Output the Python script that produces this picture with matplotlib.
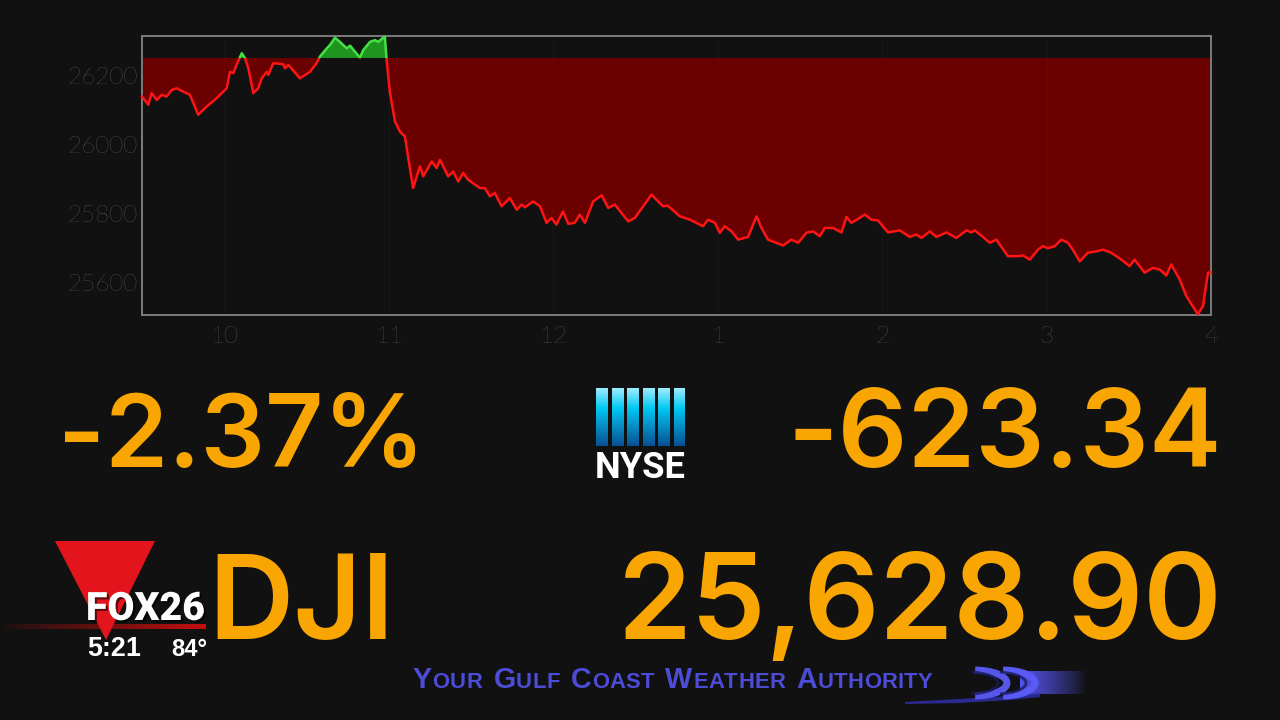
import matplotlib
matplotlib.use("Agg")
import matplotlib.pyplot as plt
import numpy as np
from matplotlib.patches import Rectangle, Polygon, Arc
import matplotlib.patheffects as pe

# ---------------- data ----------------
# minutes after 9:30 (market open)
minutes = [
    0, 2.3, 3.5, 5.4, 7.2, 9.0, 10.8, 12.7, 15.1, 17.5,
    20.5, 23.6, 27.2, 30.9, 32.1, 33.3, 34.5, 36.4, 37.6, 38.8,
    40.6, 42.4, 43.7, 45.5, 46.1, 47.9, 51.5, 52.2, 53.4, 57.6,
    61.3, 63.7, 64.9, 67.4, 68.6, 70.4, 72.2, 73.4, 74.7, 75.9,
    79.5, 80.7, 83.2, 85.0, 86.2, 88.0, 88.6, 89.2, 90.4, 92.3,
    94.1, 95.9, 98.9, 101.4, 102.6, 105.7, 107.5, 108.7, 111.7, 113.5,
    115.4, 117.2, 119.0, 123.3, 125.1, 126.9, 128.7, 131.2, 134.2, 136.7,
    138.5, 139.7, 142.7, 145.2, 147.6, 149.4, 151.2, 153.6, 155.5, 157.9,
    159.7, 161.6, 164.6, 167.7, 170.1, 172.5, 177.4, 179.8, 185.9, 188.3,
    190.1, 191.8, 196.2, 199.9, 204.7, 206.5, 209.0, 210.8, 212.6, 215.1,
    217.5, 221.1, 224.2, 226.0, 228.4, 233.9, 236.9, 239.4, 242.4, 244.8,
    247.3, 249.1, 252.1, 255.2, 257.0, 258.8, 261.2, 263.7, 266.1, 268.5,
    272.2, 276.4, 280.1, 282.5, 284.4, 287.4, 289.8, 293.5, 297.1, 300.8,
    302.6, 303.8, 306.2, 309.3, 311.7, 315.9, 319.6, 321.4, 323.9, 326.9,
    328.7, 330.5, 333.0, 335.4, 337.8, 339.6, 342.1, 345.1, 348.2, 350.6,
    353.6, 357.3, 360.3, 362.1, 365.8, 368.8, 371.3, 373.7, 375.5, 378.6,
    381.0, 385.2, 387.1, 388.9, 390.0,
]
values = [
    26140, 26116, 26150, 26130, 26145, 26140, 26159, 26164, 26154, 26145,
    26087, 26111, 26135, 26164, 26212, 26208, 26232, 26266, 26251, 26222,
    26150, 26164, 26193, 26212, 26203, 26237, 26234, 26222, 26232, 26193,
    26212, 26237, 26256, 26280, 26290, 26311, 26299, 26290, 26280, 26288,
    26253, 26275, 26299, 26304, 26299, 26311, 26314, 26251, 26154, 26067,
    26038, 26024, 25874, 25937, 25908, 25951, 25932, 25956, 25908, 25922,
    25893, 25918, 25898, 25874, 25874, 25850, 25860, 25821, 25845, 25811,
    25826, 25818, 25835, 25821, 25773, 25787, 25768, 25806, 25770, 25773,
    25797, 25773, 25835, 25853, 25816, 25826, 25777, 25787, 25855, 25835,
    25821, 25823, 25792, 25782, 25763, 25782, 25773, 25744, 25763, 25748,
    25724, 25732, 25792, 25758, 25724, 25707, 25724, 25715, 25744, 25748,
    25734, 25758, 25758, 25745, 25790, 25773, 25784, 25797, 25782, 25780,
    25745, 25751, 25732, 25739, 25729, 25748, 25732, 25745, 25729, 25751,
    25745, 25751, 25736, 25715, 25724, 25676, 25676, 25678, 25666, 25695,
    25705, 25699, 25705, 25724, 25715, 25695, 25661, 25686, 25690, 25695,
    25686, 25666, 25647, 25666, 25628, 25642, 25637, 25620, 25652, 25608,
    25560, 25507, 25531, 25628, 25629,
]
prev_close = 26252.24
hour_ticks = [30, 90, 150, 210, 270, 330, 390]
hour_labels = ["10", "11", "12", "1", "2", "3", "4"]
y_ticks = [25600, 25800, 26000, 26200]
pct_change = "-2.37%"
pt_change = "-623.34"
index_name = "DJI"
last_value = "25,628.90"
exchange = "NYSE"
station = "FOX26"
clock = "5:21"
temperature = "84°"
slogan_words = ["YOUR", "GULF", "COAST", "WEATHER", "AUTHORITY"]

# ---------------- figure ----------------
W, H = 1280, 720
BG = "#111111"
ORANGE = "#f9a602"
fig = plt.figure(figsize=(12.8, 7.2), dpi=100, facecolor=BG)
renderer = fig.canvas.get_renderer()


def fx(x):
    return x / W


def fy(y):
    return 1 - y / H


# ---------------- chart ----------------
ax = fig.add_axes([fx(142), fy(315), (1211 - 142) / W, (315 - 36) / H])
ax.set_facecolor(BG)
n = min(len(minutes), len(values))
t = np.array(minutes[:n], dtype=float)
v = np.array(values[:n], dtype=float)

ax.fill_between(t, v, prev_close, where=v <= prev_close, interpolate=True,
                color="#6a0000", lw=0, zorder=1)
ax.fill_between(t, v, prev_close, where=v >= prev_close, interpolate=True,
                color="#1f951f", lw=0, zorder=1)
for xv in hour_ticks:
    ax.axvline(xv, color="white", alpha=0.025, lw=1, zorder=2)

red_line, = ax.plot(t, v, color="#ff1414", lw=1.8, zorder=3,
                    solid_joinstyle="round")
green_line, = ax.plot(t, v, color="#44e044", lw=1.8, zorder=3,
                      solid_joinstyle="round")
below = Rectangle((-50, 20000), 500, prev_close - 20000, transform=ax.transData)
above = Rectangle((-50, prev_close), 500, 10000, transform=ax.transData)
red_line.set_clip_path(below)
green_line.set_clip_path(above)

ax.set_xlim(0, 390)
ax.set_ylim(25505, 26316)
ax.set_xticks(hour_ticks)
ax.set_xticklabels(hour_labels)
ax.set_yticks(y_ticks)
ax.set_yticklabels([str(y) for y in y_ticks])
for sp in ax.spines.values():
    sp.set_color("#7c7c7c")
    sp.set_linewidth(1.4)
ax.tick_params(axis="both", length=0, colors="#737373", labelsize=17.5)
ax.tick_params(axis="y", pad=3)
ax.tick_params(axis="x", pad=8)
for lab in ax.get_xticklabels() + ax.get_yticklabels():
    lab.set_fontfamily("Lato")
    lab.set_fontweight("light")


# ---------------- text helpers ----------------
def fit_text(s, x0, x1, ybase, ha="left", size0=60, shrink=1.0, **kw):
    xpos = {"left": x0, "right": x1, "center": (x0 + x1) / 2}[ha]
    txt = fig.text(fx(xpos), fy(ybase), s, ha=ha, va="baseline",
                   fontsize=size0, **kw)
    bb = txt.get_window_extent(renderer)
    txt.set_fontsize(size0 * shrink * (x1 - x0) / bb.width)
    return txt


big = dict(color=ORANGE, family="Inter", fontweight="semibold", shrink=0.97)
fit_text(pct_change, 58, 436, 467, "left", **big)
fit_text(pt_change, 774, 1222, 467, "right", **big)
fit_text(index_name, 208, 400, 639, "left", **big)
fit_text(last_value, 598, 1222, 639, "right", **big)

# ---------------- NYSE logo ----------------
lx0, lx1, ly0, ly1 = 596, 685, 388, 446
lax = fig.add_axes([fx(lx0), fy(ly1), (lx1 - lx0) / W, (ly1 - ly0) / H])
lax.axis("off")
hh, ww = ly1 - ly0, lx1 - lx0
frac = np.linspace(0, 1, hh)
c_top = np.array([0.62, 0.92, 1.0])
c_mid = np.array([0.0, 0.78, 0.95])
c_bot = np.array([0.04, 0.32, 0.58])
cols = np.where(frac[:, None] < 0.35,
                c_top + (c_mid - c_top) * (frac[:, None] / 0.35),
                c_mid + (c_bot - c_mid) * ((frac[:, None] - 0.35) / 0.65))
img = np.zeros((hh, ww, 4))
img[:, :, :3] = cols[:, None, :]
bw, gap = 11.9, 3.6
cidx = np.arange(ww)
inbar = (cidx % (bw + gap)) < bw
img[:, :, 3] = inbar[None, :].astype(float)
lax.imshow(img, aspect="auto", interpolation="bilinear")
fit_text(exchange, 595, 686, 478, "center", color="white", family="Roboto",
         fontweight="bold")

# ---------------- FOX logo ----------------
fig.patches.append(Polygon([(fx(55), fy(541)), (fx(155), fy(541)), (fx(106), fy(640))],
                           closed=True, transform=fig.transFigure,
                           facecolor="#e3141b", edgecolor="none", zorder=1))
grad_ax = fig.add_axes([fx(0), fy(629), 206 / W, 5 / H])
grad_ax.axis("off")
gimg = np.zeros((1, 200, 4))
gimg[0, :, 0] = np.linspace(0.45, 0.78, 200)
gimg[0, :, 1] = 0.06
gimg[0, :, 2] = 0.06
gimg[0, :, 3] = np.linspace(0.0, 1.0, 200) ** 0.6
grad_ax.imshow(gimg, aspect="auto")
fx_txt = fit_text(station, 86, 205, 620, "left", color="white",
                  family="Roboto", fontweight="black")
fx_txt.set_path_effects([pe.withSimplePatchShadow(offset=(1.5, -1.5),
                                                  shadow_rgbFace="black", alpha=0.6)])
clk = fit_text(clock, 87, 141, 656, "left", color="white",
               family="Liberation Sans", fontweight="bold")
fig.text(fx(171), fy(656), temperature, ha="left", va="baseline",
         fontsize=clk.get_fontsize() * 0.88, color="white",
         family="Liberation Sans", fontweight="bold")

# ---------------- slogan ----------------
SLOGAN = "#4c4cd6"
def draw_slogan(scale):
    x = 413
    items = []
    for w in slogan_words:
        for i, ch in enumerate(w):
            size = (15 if i == 0 else 11.5) * scale
            tt = fig.text(fx(x), fy(688), ch, fontsize=size, color=SLOGAN,
                          family="Liberation Sans", fontweight="bold",
                          va="baseline", ha="left")
            bb = tt.get_window_extent(renderer)
            x += bb.width * 1.02
            items.append(tt)
        x += 8 * scale
    return items, x - 8 * scale

items, xend = draw_slogan(1.0)
sc = (935 - 413) / (xend - 413)
for it in items:
    it.remove()
draw_slogan(sc)

# swoosh (decorative)
tail_ax = fig.add_axes([fx(900), fy(706), 190 / W, 40 / H])
tail_ax.axis("off")
tail_ax.set_xlim(900, 1090)
tail_ax.set_ylim(706, 666)
head = np.zeros((1, 80, 4))
head[0, :, :3] = [0.33, 0.33, 0.95]
head[0, :, 3] = np.linspace(1.0, 0.0, 80) ** 0.8
tail_ax.imshow(head, extent=[1020, 1086, 694, 671], aspect="auto", zorder=1)
tail_ax.fill([905, 960, 1010, 1040, 1040, 1010, 960, 905],
             [702, 699, 696, 692, 697, 700, 703, 704],
             color="#3535c8", alpha=0.7, lw=0, zorder=1)
for cx, alpha in [(974, 0.95), (1002, 1.0)]:
    tail_ax.add_patch(Arc((cx, 683), 66, 26, theta1=-85, theta2=85,
                          color="#5a5af5", lw=5, alpha=alpha, zorder=2))
    tail_ax.add_patch(Arc((cx - 6, 683), 60, 22, theta1=-70, theta2=70,
                          color="#1a1a60", lw=2, alpha=0.8, zorder=3))

fig.savefig("out.png", dpi=100, facecolor=BG)
